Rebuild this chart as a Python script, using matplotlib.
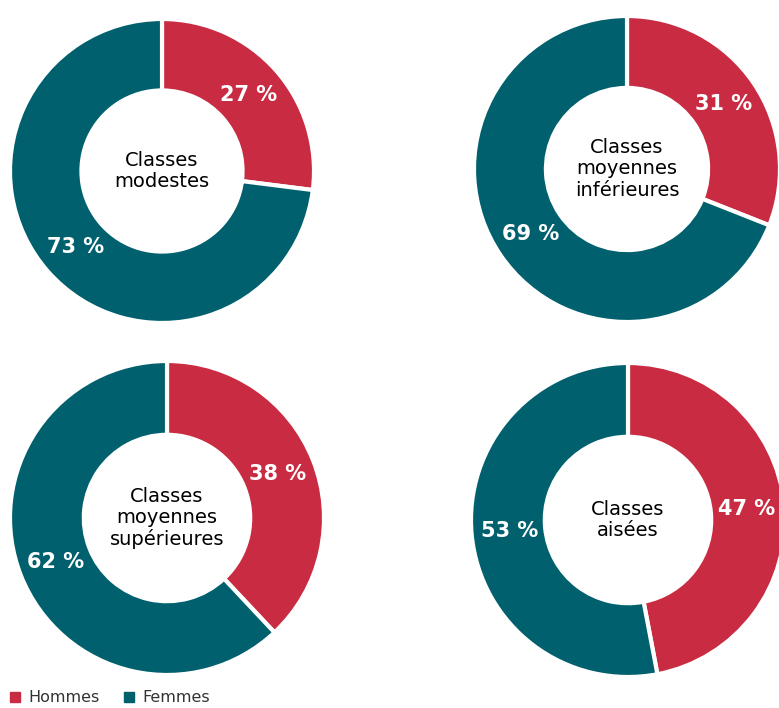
import matplotlib.pyplot as plt
from matplotlib.patches import Patch

# share of each class: Hommes vs Femmes
classes = ["Classes\nmodestes", "Classes\nmoyennes\ninférieures",
           "Classes\nmoyennes\nsupérieures", "Classes\naisées"]
hommes = [27, 31, 38, 47]
femmes = [73, 69, 62, 53]
series = ["Hommes", "Femmes"]

RED = "#C92C42"
TEAL = "#00606D"

W, H = 779, 708
fig = plt.figure(figsize=(W / 100, H / 100), dpi=100)
ax = fig.add_axes([0, 0, 1, 1])

# donut centres / radii in pixel coords (y measured from top)
centres = [(162, 171), (627, 169), (167, 518), (628, 520)]
radii = [152, 153, 157, 157]

for name, h, f, (cx, cy), r in zip(classes, hommes, femmes, centres, radii):
    c = (cx, H - cy)
    wedges, _, autotexts = ax.pie(
        [h, f], colors=[RED, TEAL], startangle=90, counterclock=False,
        center=c, radius=r, frame=True,
        autopct=lambda p: f"{p:.0f} %", pctdistance=0.76,
        wedgeprops=dict(width=r * 0.47, edgecolor="white", linewidth=3),
        textprops=dict(color="white", fontsize=15, fontweight="bold"))
    ax.text(c[0], c[1], name, ha="center", va="center", fontsize=14,
            color="black", linespacing=1.15)

ax.set_xlim(0, W)
ax.set_ylim(0, H)
ax.set_aspect("equal")
ax.axis("off")

handles = [Patch(color=RED, label=series[0]), Patch(color=TEAL, label=series[1])]
fig.legend(handles=handles, loc="center left", bbox_to_anchor=(10 / W, 10 / H),
           ncol=2, frameon=False, fontsize=11.5, handlelength=0.65,
           handleheight=0.65, handletextpad=0.5, columnspacing=1.5,
           labelcolor="#333333", borderaxespad=0, borderpad=0.0)

fig.savefig("out.png", dpi=100)
